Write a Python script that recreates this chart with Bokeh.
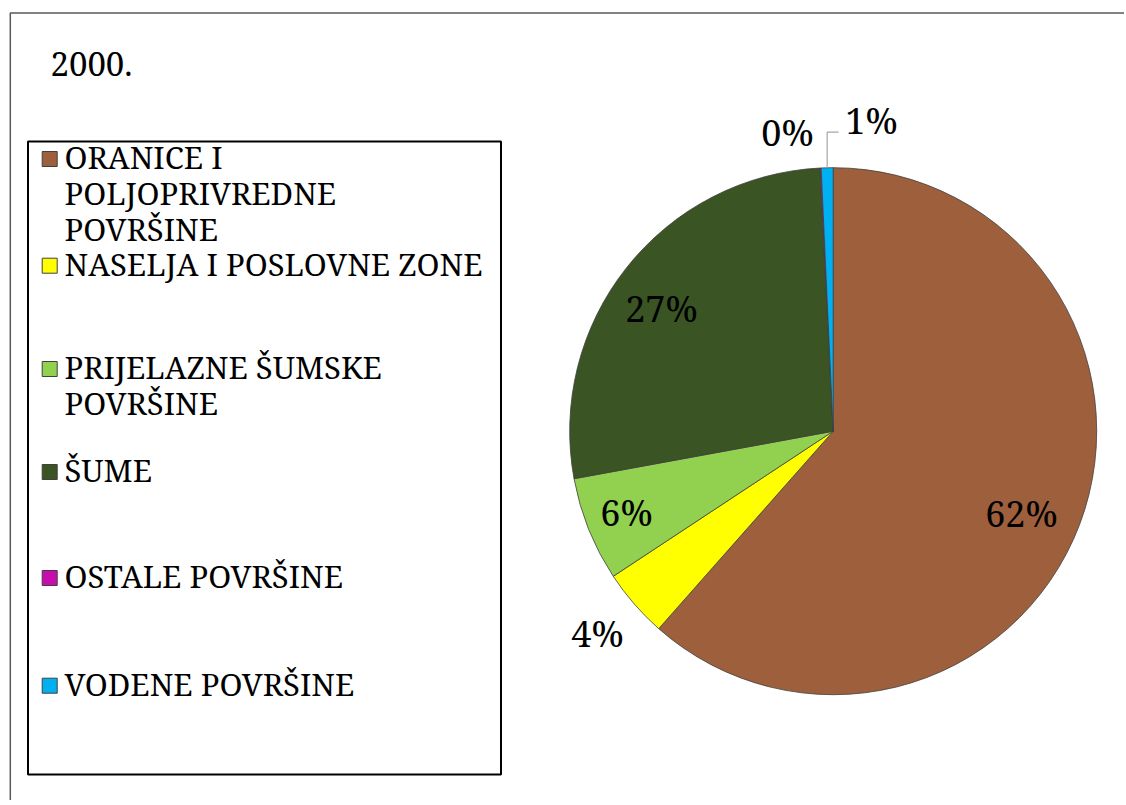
import math
from bokeh.plotting import figure, ColumnDataSource
from bokeh.models import Range1d
from bokeh.core.properties import value
from bokeh.embed import file_html
from bokeh.resources import INLINE

# ---------------- data ----------------
title = "2000."
categories = ["ORANICE I POLJOPRIVREDNE POVRŠINE", "NASELJA I POSLOVNE ZONE",
              "PRIJELAZNE ŠUMSKE POVRŠINE", "ŠUME", "OSTALE POVRŠINE", "VODENE POVRŠINE"]
legend_lines = [["ORANICE I", "POLJOPRIVREDNE", "POVRŠINE"], ["NASELJA I POSLOVNE ZONE"],
                ["PRIJELAZNE ŠUMSKE", "POVRŠINE"], ["ŠUME"], ["OSTALE POVRŠINE"], ["VODENE POVRŠINE"]]
shares = [61.55, 4.2, 6.4, 27.1, 0.07, 0.73]
colors = ["#9E5F3C", "#FFFF00", "#92D050", "#3A5424", "#C80DAF", "#00B0F0"]

# ---------------- layout (screen pixels of the 1126x805 window) ----------------
W, H = 1124, 800
OX, OY = 0, 0
def X(sx): return sx - OX
def Y(sy): return H + OY - sy

CX, CY, R = 832.7, 430.7, 263.5
label_dx = [188.3, -235.7, -206.7, -171.7, -45.7, 38.3]
label_dy = [97.3, 217.3, 96.0, -107.7, -284.0, -295.7]
legend_first_baseline = [170, 276.7, 380, 483, 589, 696.7]
legend_line_step = 35.8
FONT = value("Noto Serif")
FS_LABEL, FS_TITLE, FS_LEGEND = 36, 33, 31
BASE_FIX = 0.42  # em: rendered baseline sits lower than requested


def base(sy, fs):
    return Y(sy - BASE_FIX * fs)


p = figure(width=W, height=H, output_backend="svg", toolbar_location=None,
           x_range=Range1d(0, W), y_range=Range1d(0, H), min_border=0,
           x_axis_location=None, y_axis_location=None)
p.grid.visible = False
p.outline_line_color = None
p.background_fill_color = "white"
p.border_fill_color = "white"

# chart-area frame (left and top edges visible)
p.line(x=[X(9.8), X(9.8), W + 20], y=[-20, Y(12.5), Y(12.5)], line_color="#595959", line_width=1.5)

# pie
total = sum(shares)
starts, ends, cum = [], [], 0.0
for v in shares:
    starts.append(math.pi / 2 - 2 * math.pi * cum / total)
    cum += v
    ends.append(math.pi / 2 - 2 * math.pi * cum / total)
src = ColumnDataSource(dict(start=starts, end=ends, color=colors, cat=categories))
p.wedge(x=X(CX), y=Y(CY), radius=R, start_angle="start", end_angle="end", direction="clock",
        fill_color="color", line_color="#404040", line_width=0.8, source=src)

# data labels
labels = [f"{v:.0f}%" for v in shares]
lsrc = ColumnDataSource(dict(x=[X(CX + dx) for dx in label_dx],
                             y=[base(CY + dy, FS_LABEL) for dy in label_dy], t=labels))
p.text(x="x", y="y", text="t", source=lsrc, text_font=FONT, text_font_size=f"{FS_LABEL}px",
       text_align="center", text_baseline="alphabetic", text_color="black")

# leader line for the small blue slice
mid = (starts[5] + ends[5]) / 2
ex, ey = CX + R * math.cos(mid), CY - R * math.sin(mid)
p.line(x=[X(ex), X(ex), X(838)], y=[Y(ey), Y(131.7), Y(131.7)], line_color="#A6A6A6", line_width=1.2)

# title
p.text(x=[X(50)], y=[base(77, FS_TITLE)], text=[title], text_font=FONT, text_font_size=f"{FS_TITLE}px",
       text_baseline="alphabetic", text_color="black")

# legend box
p.quad(left=[X(27.5)], right=[X(500.5)], top=[Y(141)], bottom=[Y(774)],
       fill_color=None, line_color="black", line_width=2)

# legend entries
sw_x, sw_y, tx, ty = [], [], [], []
for i, lines in enumerate(legend_lines):
    b = legend_first_baseline[i]
    sw_x.append(X(49.2))
    sw_y.append(Y(b - 11.5))
    for j, ln in enumerate(lines):
        tx.append(X(64))
        ty.append(base(b + j * legend_line_step, FS_LEGEND))
legend_text = [ln for lines in legend_lines for ln in lines]
p.rect(x=sw_x, y=sw_y, width=15, height=15, fill_color=colors, line_color="#404040", line_width=1)
p.text(x=tx, y=ty, text=legend_text, text_font=FONT, text_font_size=f"{FS_LEGEND}px",
       text_baseline="alphabetic", text_color="black")

open("out.html", "w").write(file_html(p, INLINE))
